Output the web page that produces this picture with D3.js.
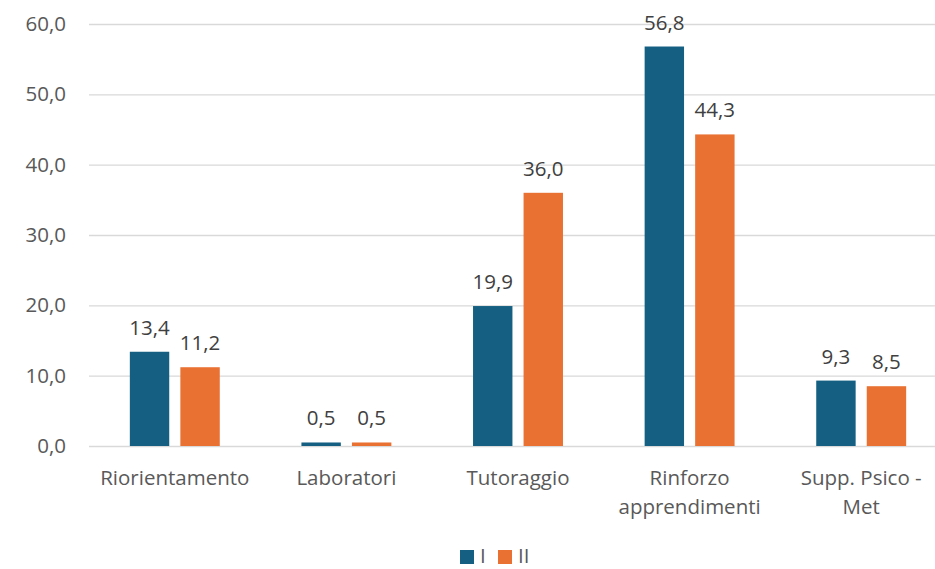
<!DOCTYPE html>
<html>
<head>
<meta charset="utf-8">
<script src="https://cdn.jsdelivr.net/npm/d3@7"></script>
<style>
  body { margin: 0; background: #fff; }
  text { font-family: "Open Sans", "Noto Sans", sans-serif; }
</style>
</head>
<body>
<div id="contenedor"></div>
<script>
// dati
categorie = [["Riorientamento"], ["Laboratori"], ["Tutoraggio"], ["Rinforzo", "apprendimenti"], ["Supp. Psico -", "Met"]]
serieI = [13.4, 0.5, 19.9, 56.8, 9.3]
serieII = [11.2, 0.5, 36.0, 44.3, 8.5]
nomiSerie = ["I", "II"]
tickY = [0, 10, 20, 30, 40, 50, 60]

ancho = 935
alto = 569
colori = ["#156082", "#e97132"]
fs = "20.5px"

svg = d3.select("#contenedor")
    .append("svg")
    .attr("width", ancho)
    .attr("height", alto)

// scale
x = d3.scaleBand()
    .domain(d3.range(categorie.length))
    .range([89, 947])

xSerie = d3.scaleBand()
    .domain([0, 1])
    .range([-48, 48])
    .paddingInner(0.22)
    .paddingOuter(0.06)

y = d3.scaleLinear()
    .domain([0, 60])
    .range([446, 24])

fmt = function(v) { return d3.format(".1f")(v).replace(".", ",") }

// griglia + etichette asse y
ejeY = d3.axisLeft(y)
    .tickValues(tickY)
    .tickFormat(fmt)
    .tickSize(-(ancho - 89))
    .tickPadding(23)

gY = svg.append("g")
    .attr("transform", "translate(89,0)")
    .call(ejeY)
gY.select(".domain").remove()
gY.selectAll("line").attr("stroke", "#d9d9d9").attr("stroke-width", 1.3)
gY.selectAll("text")
    .attr("fill", "#595959")
    .style("font-size", fs)

// barre
serie = [serieI, serieII]
serie.forEach(function(valori, s) {
    g = svg.append("g")
    g.selectAll("rect")
        .data(valori)
        .enter()
        .append("rect")
        .attr("x", function(d, i) { return x(i) + x.bandwidth() / 2 + xSerie(s) })
        .attr("width", xSerie.bandwidth())
        .attr("y", function(d) { return y(d) })
        .attr("height", function(d) { return y(0) - y(d) })
        .attr("fill", colori[s])

    g.selectAll("text")
        .data(valori)
        .enter()
        .append("text")
        .attr("x", function(d, i) { return x(i) + x.bandwidth() / 2 + xSerie(s) + xSerie.bandwidth() / 2 })
        .attr("y", function(d) { return y(d) - 17 })
        .attr("text-anchor", "middle")
        .attr("fill", "#404040")
        .style("font-size", fs)
        .text(function(d) { return fmt(d) })
})

// etichette categorie
gX = svg.append("g")
gX.selectAll("text")
    .data(categorie)
    .enter()
    .append("text")
    .attr("x", function(d, i) { return x(i) + x.bandwidth() / 2 })
    .attr("y", 485)
    .attr("text-anchor", "middle")
    .attr("fill", "#595959")
    .style("font-size", fs)
    .each(function(d) {
        t = d3.select(this)
        d.forEach(function(riga, k) {
            t.append("tspan")
                .attr("x", t.attr("x"))
                .attr("dy", k == 0 ? 0 : 29)
                .text(riga)
        })
    })

// legenda
leg = svg.append("g")
posLeg = [460, 498]
nomiSerie.forEach(function(n, s) {
    leg.append("rect")
        .attr("x", posLeg[s])
        .attr("y", 550)
        .attr("width", 14)
        .attr("height", 14)
        .attr("fill", colori[s])
    leg.append("text")
        .attr("x", posLeg[s] + 20)
        .attr("y", 563)
        .attr("fill", "#595959")
        .style("font-size", fs)
        .text(n)
})
</script>
</body>
</html>
